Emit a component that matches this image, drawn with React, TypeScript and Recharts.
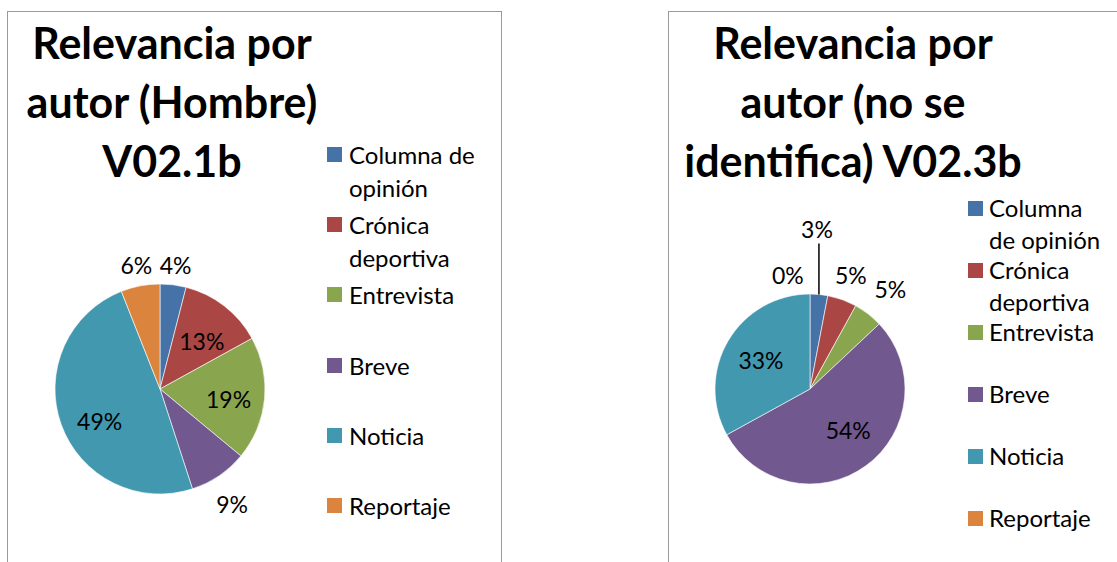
import React from 'react';
import { PieChart, Pie, Cell, Legend } from 'recharts';

const categories = ['Columna de opinión', 'Crónica deportiva', 'Entrevista', 'Breve', 'Noticia', 'Reportaje'];
const hombreValues = [4, 13, 19, 9, 49, 6];
const noIdentificaValues = [3, 5, 5, 54, 33, 0];
const sliceColors = ['#4572A7', '#AA4643', '#89A54E', '#71588F', '#4198AF', '#DB843D'];
const hombreTitle = ['Relevancia por', 'autor (Hombre)', 'V02.1b'];
const noIdentificaTitle = ['Relevancia por', 'autor (no se', 'identifica) V02.3b'];

const FONT = 'Lato, "Open Sans", sans-serif';
const RAD = Math.PI / 180;

// where excel put each percentage: radius factor and angle nudge (deg)
const hombreLabelPos = [
  { r: 1.19, a: 0 },
  { r: 0.61, a: -3 },
  { r: 0.66, a: -3 },
  { r: 1.29, a: -2 },
  { r: 0.65, a: 8 },
  { r: 1.2, a: 0 },
];
const noIdentificaLabelPos = [
  { r: 1.68, a: 0, leader: true },
  { r: 1.27, a: 0 },
  { r: 1.35, a: -1 },
  { r: 0.59, a: 7 },
  { r: 0.6, a: 0 },
  { r: 1.22, a: 11 },
];

const makeLabel = (layout: any[]) => (props: any) => {
  const { cx, cy, midAngle, outerRadius, percent, index } = props;
  const pos = layout[index];
  const text = `${Math.round(percent * 100)}%`;
  if (pos.leader) {
    const ax = cx + outerRadius * Math.cos(-midAngle * RAD);
    const ay = cy + outerRadius * Math.sin(-midAngle * RAD);
    return (
      <g key={`lbl-${index}`}>
        <line x1={ax} y1={ay} x2={ax} y2={ay - 51} stroke="#000" strokeWidth={1.5} />
        <text x={ax - 2} y={ay - 65} textAnchor="middle" dominantBaseline="central" fill="#000" fontSize={23} fontFamily={FONT}>
          {text}
        </text>
      </g>
    );
  }
  const ang = (midAngle + pos.a) * RAD;
  const r = outerRadius * pos.r;
  return (
    <text
      key={`lbl-${index}`}
      x={cx + r * Math.cos(-ang)}
      y={cy + r * Math.sin(-ang)}
      textAnchor="middle"
      dominantBaseline="central"
      fill="#000"
      fontSize={23}
      fontFamily={FONT}
    >
      {text}
    </text>
  );
};

// legend keeps the series order (recharts would sort it by name)
const makeLegend = (spacing: number, lh: number, textLeft: number, textWidth: number) => () => (
  <div style={{ position: 'relative', fontFamily: FONT, fontSize: 24, color: '#000' }}>
    {categories.map((name, i) => (
      <div key={name} style={{ position: 'absolute', top: i * spacing, left: 0, width: textLeft + textWidth }}>
        <div style={{ position: 'absolute', left: 0, top: (lh - 15) / 2, width: 15, height: 15, background: sliceColors[i] }} />
        <div style={{ position: 'absolute', left: textLeft, top: 0, width: textWidth, lineHeight: `${lh}px`, textAlign: 'left' }}>
          {name}
        </div>
      </div>
    ))}
  </div>
);

const Title: React.FC<{ lines: string[]; center: number }> = ({ lines, center }) => (
  <div
    style={{
      position: 'absolute',
      left: center - 250,
      top: 1,
      width: 500,
      textAlign: 'center',
      fontFamily: FONT,
      fontWeight: 700,
      fontSize: 43,
      lineHeight: '59px',
      color: '#000',
      zIndex: 2,
    }}
  >
    {lines.map((l) => (
      <div key={l}>{l}</div>
    ))}
  </div>
);

interface PanelProps {
  left: number;
  width: number;
  values: number[];
  title: string[];
  titleCenter: number;
  cx: number;
  radius: number;
  labelPos: any[];
  legendLeft: number;
  legendTop: number;
  legendSpacing: number;
  legendLh: number;
  legendTextLeft: number;
  legendTextWidth: number;
  rightBorder: boolean;
}

const PiePanel: React.FC<PanelProps> = (p) => {
  const data = categories.map((name, i) => ({ name, value: p.values[i] }));
  return (
    <div
      style={{
        position: 'absolute',
        left: p.left,
        top: 11,
        width: p.width,
        height: 600,
        borderLeft: '1px solid #9a9a9a',
        borderTop: '1px solid #9a9a9a',
        borderRight: p.rightBorder ? '1px solid #9a9a9a' : 'none',
        background: '#fff',
      }}
    >
      <Title lines={p.title} center={p.titleCenter} />
      <PieChart width={p.width} height={551} margin={{ top: 0, right: 0, bottom: 0, left: 0 }}>
        <Pie
          data={data}
          dataKey="value"
          nameKey="name"
          cx={p.cx}
          cy={377}
          outerRadius={p.radius}
          startAngle={90}
          endAngle={-270}
          stroke="#ffffff"
          strokeWidth={0.6}
          label={makeLabel(p.labelPos)}
          labelLine={false}
          isAnimationActive={false}
        >
          {data.map((d, i) => (
            <Cell key={d.name} fill={sliceColors[i]} />
          ))}
        </Pie>
        <Legend
          content={makeLegend(p.legendSpacing, p.legendLh, p.legendTextLeft, p.legendTextWidth)}
          wrapperStyle={{ position: 'absolute', left: p.legendLeft, top: p.legendTop, width: 160, height: 10 }}
        />
      </PieChart>
    </div>
  );
};

export default function App() {
  return (
    <div style={{ position: 'absolute', left: 0, top: 0, width: 1117, height: 562, overflow: 'hidden', background: '#fff' }}>
      <PiePanel
        left={7}
        width={493}
        values={hombreValues}
        title={hombreTitle}
        titleCenter={164}
        cx={152}
        radius={105}
        labelPos={hombreLabelPos}
        legendLeft={319}
        legendTop={126}
        legendSpacing={70.2}
        legendLh={33}
        legendTextLeft={22}
        legendTextWidth={150}
        rightBorder
      />
      <PiePanel
        left={668}
        width={449}
        values={noIdentificaValues}
        title={noIdentificaTitle}
        titleCenter={184}
        cx={141}
        radius={95}
        labelPos={noIdentificaLabelPos}
        legendLeft={299}
        legendTop={180}
        legendSpacing={62}
        legendLh={32}
        legendTextLeft={21}
        legendTextWidth={124}
        rightBorder={false}
      />
    </div>
  );
}
